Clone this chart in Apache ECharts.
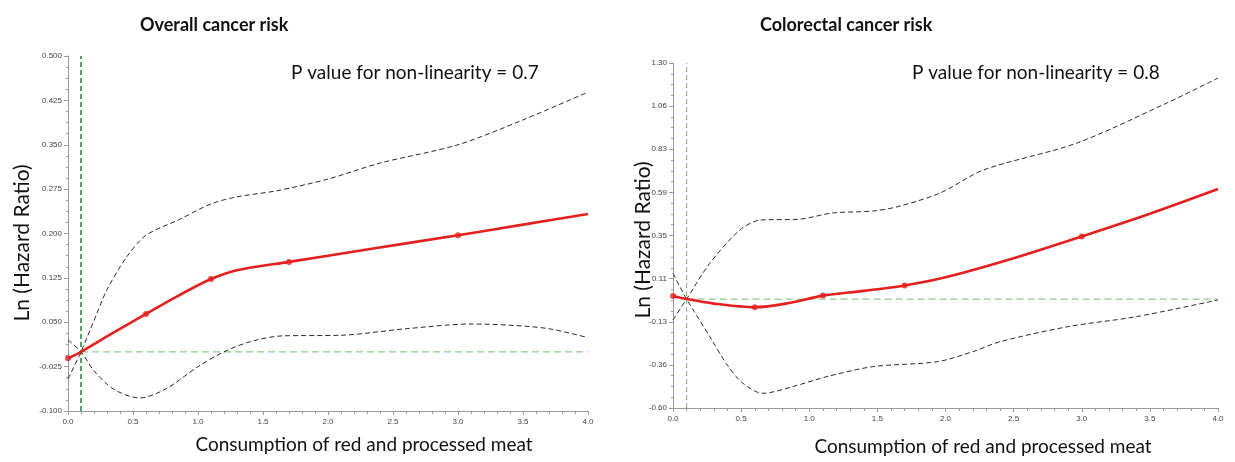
<!DOCTYPE html>
<html>
<head>
<meta charset="utf-8">
<script src="https://cdn.jsdelivr.net/npm/echarts@6/dist/echarts.min.js"></script>
<style>
html,body{margin:0;padding:0;background:#fff;}
#c{width:1235px;height:462px;}
</style>
</head>
<body>
<div id="c"></div>
<script>
// ---------- DATA ----------
const titles = ['Overall cancer risk', 'Colorectal cancer risk'];
const pTexts = ['P value for non-linearity = 0.7', 'P value for non-linearity = 0.8'];
const yName = 'Ln (Hazard Ratio)';
const xName = 'Consumption of red and processed meat';

const xTickLabels = ['0.0','0.5','1.0','1.5','2.0','2.5','3.0','3.5','4.0'];
const yTickLabelsL = ['-0.100','-0.025','0.050','0.125','0.200','0.275','0.350','0.425','0.500'];
const yTickLabelsR = ['-0.60','-0.36','-0.13','0.11','0.35','0.59','0.83','1.06','1.30'];

const refX = 0.1;   // reference exposure
const refY = 0;     // ln(HR) = 0

// Overall cancer risk
const estXL = [0, 0.1, 0.3, 0.6, 0.85, 1.1, 1.3, 1.7, 2.3, 3.0, 3.5, 4.0];
const estYL = [-0.011, 0.0, 0.026, 0.064, 0.095, 0.123, 0.138, 0.152, 0.173, 0.197, 0.215, 0.233];
const upXL  = [0, 0.1, 0.2, 0.3, 0.45, 0.6, 0.85, 1.1, 1.3, 1.6, 2.0, 2.4, 3.0, 3.5, 4.0];
const upYL  = [-0.046, 0, 0.053, 0.105, 0.16, 0.197, 0.223, 0.25, 0.262, 0.272, 0.292, 0.319, 0.350, 0.392, 0.439];
const loXL  = [0, 0.1, 0.2, 0.35, 0.55, 0.75, 1.0, 1.2, 1.4, 1.65, 2.1, 2.6, 3.1, 3.4, 3.7, 4.0];
const loYL  = [0.02, 0, -0.032, -0.063, -0.078, -0.063, -0.025, 0.0, 0.017, 0.027, 0.028, 0.039, 0.047, 0.045, 0.039, 0.024];
const knotXL = [0, 0.6, 1.1, 1.7, 3.0];
const knotYL = [-0.011, 0.064, 0.123, 0.152, 0.197];

// Colorectal cancer risk
const estXR = [0, 0.1, 0.3, 0.6, 0.85, 1.1, 1.4, 1.7, 2.0, 2.5, 3.0, 3.5, 4.0];
const estYR = [0.017, 0.0, -0.025, -0.045, -0.022, 0.019, 0.045, 0.075, 0.12, 0.225, 0.345, 0.47, 0.606];
const upXR  = [0, 0.1, 0.27, 0.49, 0.64, 0.93, 1.17, 1.47, 1.65, 1.96, 2.28, 2.96, 3.62, 4.0];
const upYR  = [-0.115, 0, 0.197, 0.38, 0.435, 0.44, 0.474, 0.485, 0.509, 0.584, 0.711, 0.858, 1.078, 1.217];
const loXR  = [0, 0.1, 0.27, 0.39, 0.51, 0.66, 0.88, 1.13, 1.47, 1.94, 2.2, 2.4, 2.9, 3.4, 4.0];
const loYR  = [0.142, 0, -0.207, -0.354, -0.462, -0.519, -0.482, -0.427, -0.372, -0.345, -0.29, -0.235, -0.152, -0.097, -0.005];
const knotXR = [0, 0.6, 1.1, 1.7, 3.0];
const knotYR = [0.017, -0.045, 0.019, 0.075, 0.345];

// ---------- BUILD ----------
const zip = (xs, ys) => xs.map((x, i) => [x, ys[i]]);
const FONT = 'Lato, "Open Sans", sans-serif';
const TICKFONT = '"Liberation Sans", Arial, sans-serif';

function xAxis(gi) {
  return {
    type: 'value', gridIndex: gi, min: 0, max: 4, interval: 0.5,
    axisLine: {show: true, onZero: false, lineStyle: {color: '#9a9a9a', width: 1}},
    axisTick: {show: true, length: 4, lineStyle: {color: '#9a9a9a'}},
    minorTick: {show: true, splitNumber: 5, length: 3, lineStyle: {color: '#9a9a9a'}},
    splitLine: {show: false},
    axisLabel: {fontSize: 8, color: '#444', fontFamily: TICKFONT, margin: 7,
      formatter: (v) => xTickLabels[Math.round(v / 0.5)]}
  };
}
function yAxis(gi, min, max, labels) {
  const interval = (max - min) / (labels.length - 1);
  return {
    type: 'value', gridIndex: gi, min: min, max: max, interval: interval,
    axisLine: {show: true, onZero: false, lineStyle: {color: '#9a9a9a', width: 1}},
    axisTick: {show: true, length: 4, lineStyle: {color: '#9a9a9a'}},
    minorTick: {show: true, splitNumber: 4, length: 2, lineStyle: {color: '#9a9a9a'}},
    splitLine: {show: false},
    axisLabel: {fontSize: 8, color: '#444', fontFamily: TICKFONT, margin: 6,
      formatter: (v) => labels[Math.round((v - min) / interval)]}
  };
}

function panelSeries(gi, est, up, lo, knots, vColor, vWidth, vDash) {
  const dashed = {color: '#2b2b2b', width: 1, type: [5, 3]};
  const sm = 0.3;
  return [
    {type: 'line', xAxisIndex: gi, yAxisIndex: gi, data: [[refX, refY], [4, refY]],
      showSymbol: false, silent: true,
      lineStyle: {color: '#8fc98f', width: 1.2, type: [7, 4]}, z: 1},
    {type: 'line', xAxisIndex: gi, yAxisIndex: gi,
      data: [[refX, gi === 0 ? -0.1 : -0.6], [refX, gi === 0 ? 0.5 : 1.3]],
      showSymbol: false, silent: true,
      lineStyle: {color: vColor, width: vWidth, type: vDash}, z: 1},
    {type: 'line', xAxisIndex: gi, yAxisIndex: gi, data: up, smooth: sm,
      showSymbol: false, lineStyle: dashed, z: 2},
    {type: 'line', xAxisIndex: gi, yAxisIndex: gi, data: lo, smooth: sm,
      showSymbol: false, lineStyle: dashed, z: 2},
    {type: 'line', xAxisIndex: gi, yAxisIndex: gi, data: est, smooth: sm,
      showSymbol: false, lineStyle: {color: '#e3201f', width: 2.6}, z: 3},
    {type: 'scatter', xAxisIndex: gi, yAxisIndex: gi, data: knots, symbol: 'circle', symbolSize: 6,
      itemStyle: {color: '#e3201f'}, z: 4}
  ];
}

const option = {
  animation: false,
  backgroundColor: '#fff',
  title: [
    {text: titles[0], left: 135, top: 11, textStyle: {fontFamily: FONT, fontWeight: 'bold', fontSize: 18, color: '#111'}},
    {text: titles[1], left: 755, top: 11, textStyle: {fontFamily: FONT, fontWeight: 'bold', fontSize: 18, color: '#111'}},
    {text: pTexts[0], left: 286, top: 58, textStyle: {fontFamily: FONT, fontWeight: 'normal', fontSize: 19, color: '#111'}},
    {text: pTexts[1], left: 907, top: 58, textStyle: {fontFamily: FONT, fontWeight: 'normal', fontSize: 19, color: '#111'}}
  ],
  grid: [
    {left: 68, top: 56, width: 520, height: 355},
    {left: 673, top: 63, width: 545, height: 345}
  ],
  xAxis: [xAxis(0), xAxis(1)],
  yAxis: [yAxis(0, -0.1, 0.5, yTickLabelsL), yAxis(1, -0.6, 1.3, yTickLabelsR)],
  graphic: [
    {type: 'text', x: 22, y: 243, rotation: Math.PI / 2,
      style: {text: yName, font: '21px ' + FONT, fill: '#111', align: 'center', verticalAlign: 'middle'}},
    {type: 'text', x: 643, y: 240, rotation: Math.PI / 2,
      style: {text: yName, font: '21px ' + FONT, fill: '#111', align: 'center', verticalAlign: 'middle'}},
    {type: 'text', x: 364, y: 445,
      style: {text: xName, font: '19px ' + FONT, fill: '#111', align: 'center', verticalAlign: 'middle'}},
    {type: 'text', x: 983, y: 447,
      style: {text: xName, font: '19px ' + FONT, fill: '#111', align: 'center', verticalAlign: 'middle'}}
  ],
  series: [].concat(
    panelSeries(0, zip(estXL, estYL), zip(upXL, upYL), zip(loXL, loYL), zip(knotXL, knotYL), '#2e8b3e', 1.6, [5, 3]),
    panelSeries(1, zip(estXR, estYR), zip(upXR, upYR), zip(loXR, loYR), zip(knotXR, knotYR), '#6dbb6d', 1, [5, 3])
  )
};

const chart = echarts.init(document.getElementById('c'), null, {renderer: 'canvas'});
chart.setOption(option);
</script>
</body>
</html>
